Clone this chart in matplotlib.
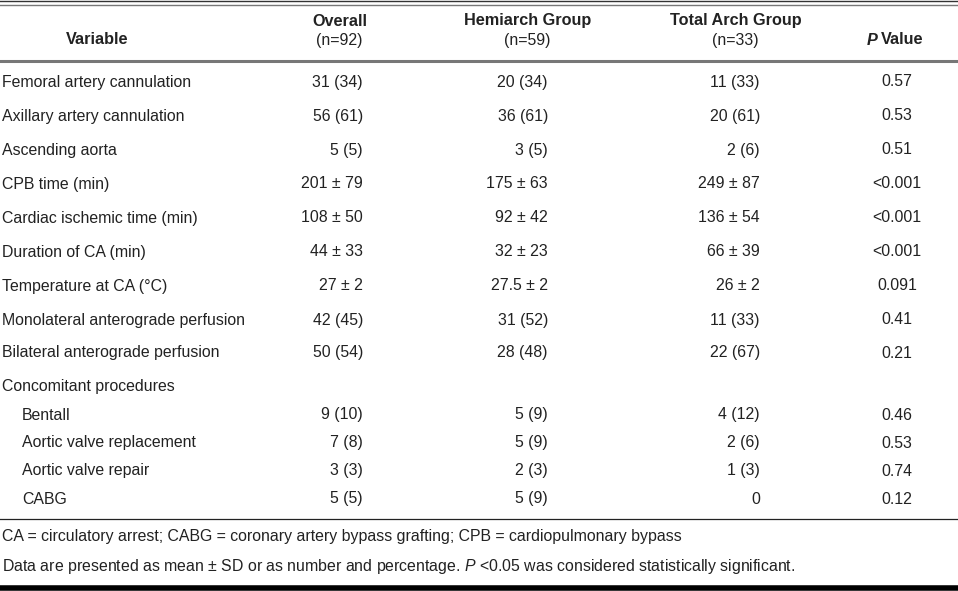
import matplotlib
matplotlib.use("Agg")
import matplotlib.pyplot as plt

# Datos de la tabla
variables = ["Femoral artery cannulation", "Axillary artery cannulation", "Ascending aorta",
             "CPB time (min)", "Cardiac ischemic time (min)", "Duration of CA (min)",
             "Temperature at CA (°C)", "Monolateral anterograde perfusion",
             "Bilateral anterograde perfusion", "Concomitant procedures",
             "Bentall", "Aortic valve replacement", "Aortic valve repair", "CABG"]
sangria = [0, 0, 0, 0, 0, 0, 0, 0, 0, 0, 1, 1, 1, 1]
overall = ["31 (34)", "56 (61)", "5 (5)", "201 ± 79", "108 ± 50", "44 ± 33", "27 ± 2",
           "42 (45)", "50 (54)", "", "9 (10)", "7 (8)", "3 (3)", "5 (5)"]
hemiarch = ["20 (34)", "36 (61)", "3 (5)", "175 ± 63", "92 ± 42", "32 ± 23", "27.5 ± 2",
            "31 (52)", "28 (48)", "", "5 (9)", "5 (9)", "2 (3)", "5 (9)"]
total_arch = ["11 (33)", "20 (61)", "2 (6)", "249 ± 87", "136 ± 54", "66 ± 39", "26 ± 2",
              "11 (33)", "22 (67)", "", "4 (12)", "2 (6)", "1 (3)", "0"]
p_values = ["0.57", "0.53", "0.51", "<0.001", "<0.001", "<0.001", "0.091",
            "0.41", "0.21", "", "0.46", "0.53", "0.74", "0.12"]
encabezados = ["Overall", "Hemiarch Group", "Total Arch Group"]
tamanos = ["(n=92)", "(n=59)", "(n=33)"]
notas = ["CA = circulatory arrest; CABG = coronary artery bypass grafting; CPB = cardiopulmonary bypass",
         "Data are presented as mean ± SD or as number and percentage. $\\mathit{P}$ <0.05 was considered statistically significant."]

plt.rcParams["font.family"] = ["Liberation Sans", "DejaVu Sans"]
plt.rcParams["mathtext.fontset"] = "custom"
plt.rcParams["mathtext.it"] = "Liberation Sans:italic"
plt.rcParams["mathtext.rm"] = "Liberation Sans"
plt.rcParams["mathtext.bfit"] = "Liberation Sans:italic:bold"

W, H = 958, 591
fig = plt.figure(figsize=(W / 100, H / 100), dpi=100)
ax = fig.add_axes([0, 0, 1, 1])
ax.set_xlim(0, W)
ax.set_ylim(H, 0)
ax.axis("off")

color_texto = "#222222"
fs = 11.4
fs_neg = 11.7

# Lineas horizontales
ax.axhline(1, color="#333333", lw=1.0)
ax.axhline(4.5, color="#777777", lw=1.0)
ax.axhline(60.5, color="#777777", lw=2.2)
ax.axhline(519, color="#222222", lw=0.9)
ax.axhline(588, color="#000000", lw=4.0)

# Encabezados
ax.text(97, 40, "Variable", ha="center", va="center", fontsize=fs_neg, fontweight="bold", color=color_texto)
centros = [340, 528, 736]
for cx, enc, n in zip(centros, encabezados, tamanos):
    ax.text(cx, 21, enc, ha="center", va="center", fontsize=fs_neg, fontweight="bold", color=color_texto)
    ax.text(cx - 1, 40, n, ha="center", va="center", fontsize=fs, color=color_texto)
ax.text(879, 40, "$\\mathbfit{P}$", ha="right", va="center", fontsize=fs_neg, color=color_texto)
ax.text(881, 40, "Value", ha="left", va="center", fontsize=fs_neg, fontweight="bold", color=color_texto)

# Filas
ys = [82, 116, 150, 184, 218, 252, 286, 320, 353, 387, 415, 443, 471, 499]
for i, y in enumerate(ys):
    ax.text(2 + 20 * sangria[i], y, variables[i], ha="left", va="center", fontsize=fs, color=color_texto)
    ax.text(363, y, overall[i], ha="right", va="center", fontsize=fs, color=color_texto)
    ax.text(548, y, hemiarch[i], ha="right", va="center", fontsize=fs, color=color_texto)
    ax.text(760, y, total_arch[i], ha="right", va="center", fontsize=fs, color=color_texto)
    ax.text(897, y, p_values[i], ha="center", va="center", fontsize=fs, color=color_texto)

# Notas al pie
ax.text(2, 537, notas[0], ha="left", va="center", fontsize=fs, color=color_texto)
ax.text(2, 567, notas[1], ha="left", va="center", fontsize=fs, color=color_texto)

fig.savefig("out.png", dpi=100)
